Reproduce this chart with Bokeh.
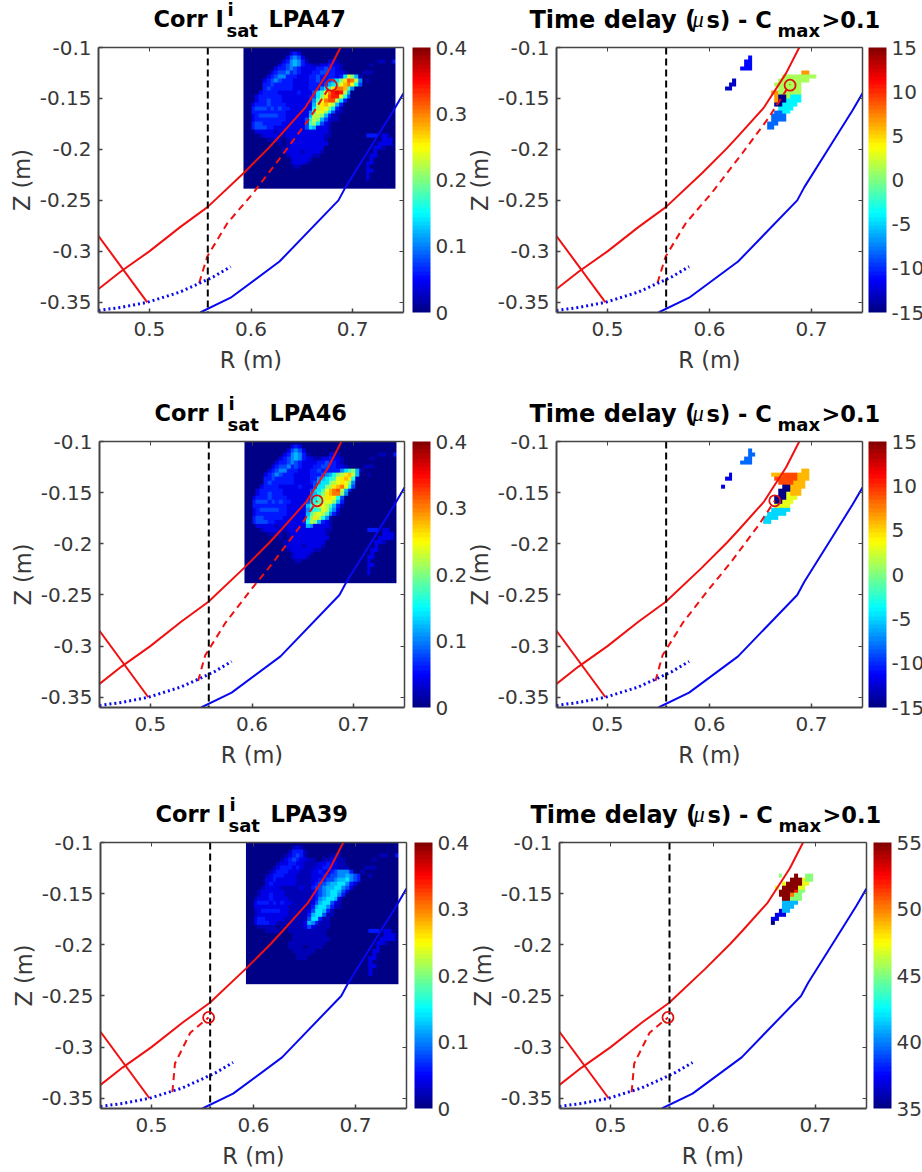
from bokeh.plotting import figure
from bokeh.layouts import column, row
from bokeh.models import (ColorBar, FixedTicker, Label, LinearAxis, LinearColorMapper)
from bokeh.embed import file_html
from bokeh.resources import INLINE
import numpy as np

# ---- curves (R, Z in metres) ----
SEP_R = [0.45, 0.4716, 0.50, 0.5306, 0.5572, 0.5926, 0.617, 0.629, 0.6535, 0.675, 0.688]
SEP_Z = [-0.337, -0.32, -0.30, -0.276, -0.2566, -0.2233, -0.199, -0.186, -0.1587, -0.1254, -0.10]
LEG_R = [0.45, 0.498]
LEG_Z = [-0.285, -0.35]
WALL_R = [0.55, 0.58, 0.628, 0.686, 0.693, 0.72, 0.74, 0.75]
WALL_Z = [-0.36, -0.3455, -0.31, -0.25, -0.237, -0.194, -0.162, -0.145]
DOT_R = [0.45, 0.472, 0.498, 0.53, 0.55, 0.563, 0.58]
DOT_Z = [-0.358, -0.355, -0.35, -0.34, -0.331, -0.325, -0.315]
VLINE_R = [0.5575, 0.5575]
VLINE_Z = [-0.10, -0.36]

DASH47_R = [0.549, 0.557, 0.577, 0.602, 0.632, 0.658, 0.679]
DASH47_Z = [-0.331, -0.305, -0.272, -0.243, -0.204, -0.169, -0.136]
DASH46_R = [0.547, 0.554, 0.574, 0.5985, 0.621, 0.648, 0.664]
DASH46_Z = [-0.334, -0.309, -0.277, -0.2455, -0.218, -0.182, -0.158]
DASH39_R = [0.5205, 0.523, 0.538, 0.556]
DASH39_Z = [-0.344, -0.316, -0.286, -0.271]
CIRCLE_R = [0.679, 0.664, 0.556]
CIRCLE_Z = [-0.137, -0.158, -0.271]

# ---- correlation maps, one character per cell, base-36 in units of 0.02 ----
BASE_ROWS = [
 "",
 "000000000000232",
 "00000000000245420",
 "0000000000235653100000221",
 "000000000234565322112232210",
 "00000000233454322223343321",
 "0000000234453432223344332210",
 "000000234553332223343333222100",
 "00000234543332222334322222211",
 "0000033433333222233322222221110",
 "00000343333332222333222222211",
 "0000233332222232223322222221",
 "0002333333222222233222222211",
 "000233433322222223322222211",
 "00233343333222222232222221",
 "00344434343322222222222221",
 "00333333333222222222222211",
 "00234444433222222222222110",
 "0023333333322222222222211",
 "00344333332222222222221",
 "00344433222222222222221",
 "00022222121222222222221",
 "000012222112222222222110",
 "00000011110122222222210",
 "00000000010122222222220",
 "00000000001122222222200",
 "00000000001222212222100",
 "000000000001222222110",
 "0000000000001222210",
 "000000000000122210",
 "0000000000000110",
]
BASE39_ROWS = [
 "",
 "000000000000121",
 "00000000000133310",
 "0000000000123431000000111",
 "000000000123432211001121110",
 "00000000122332211112232211",
 "0000000123332321112233221110",
 "000000123332221112232222111000",
 "00000123332221111223211111110",
 "0000022322222111122211111111000",
 "00000232222221111222111111110",
 "0000122221111121112211111110",
 "0001222222111111122111111110",
 "000122322211111112211111110",
 "00122232222111111121111110",
 "00233323232211111111111110",
 "00222222222111111111111110",
 "00123333322111111111111000",
 "0012222222211111111111100",
 "00233222221111111111110",
 "00233322111111111111110",
 "00011111010111111111110",
 "000001111001111111111000",
 "00000000000011111111100",
 "00000000000011111111110",
 "00000000000111111111100",
 "00000000000111101111000",
 "000000000000111111000",
 "0000000000000111100",
 "000000000000011100",
 "0000000000000000",
]
SPARSE = [(3, 35, "11"), (3, 39, "3"), (4, 33, "1"), (6, 31, "111"), (7, 30, "1"), (8, 32, "1"),
          (22, 32, "333"), (22, 36, "22"), (23, 36, "222"), (24, 35, "2222"), (25, 34, "221"),
          (26, 34, "2"), (27, 33, "22"), (28, 33, "2"), (29, 32, "22"), (30, 32, "2"),
          (31, 32, "22"), (32, 32, "2"), (33, 32, "2")]
STREAK47 = [(7, 25, "37ca6"), (8, 21, "3457adgfb5"), (9, 20, "34679cefc84"), (10, 19, "3579dffe95"),
            (11, 18, "479cfhihb6"), (12, 18, "47adghhc84"), (13, 18, "59cfggb73"), (14, 18, "6bdecb63"),
            (15, 18, "7bdca73"), (16, 17, "59cca74"), (17, 17, "6bba63"), (18, 16, "48ba64"),
            (19, 16, "49a74"), (20, 16, "4762")]
STREAK46 = [(7, 24, "3579a6"), (8, 19, "34568abdeb6"), (9, 18, "356789cded8"), (10, 18, "4677abcdca5"),
            (11, 18, "477abdefc84"), (12, 17, "4779cefgb63"), (13, 17, "568adeffa5"), (14, 17, "579bddc84"),
            (15, 16, "4689bcca63"), (16, 16, "689bcb963"), (17, 16, "5789cb752"), (18, 16, "69bcb953"),
            (19, 16, "7adb85"), (20, 15, "38ba63"), (21, 15, "2652")]
STREAK39 = [(7, 21, "2345553"), (8, 19, "23344556543"), (9, 18, "233445667543"), (10, 17, "234456677532"),
            (11, 17, "34456677542"), (12, 17, "2345677642"), (13, 17, "234567753"), (14, 17, "23567762"),
            (15, 17, "2467742"), (16, 17, "367753"), (17, 16, "247763"), (18, 16, "36774"),
            (19, 16, "4773"), (20, 15, "2653"), (21, 15, "242")]

# ---- delay maps: (row, col, cells), '.' = masked; base-36 offset from the bar's low end ----
DELAY47 = [(2, 12, "4"), (3, 11, "44"), (4, 11, "44"), (5, 10, "444"), (8, 8, "2"), (9, 7, "22"), (10, 6, "22"),
           (6, 26, "mm"), (7, 21, "ggggggggg"), (8, 20, "gggggggg"), (9, 19, "ggggggg"), (10, 20, "gggggg"),
           (11, 18, "mmgggggg"), (12, 19, "m00gbbb"), (13, 19, "m00bbbb"), (14, 19, "00bbbb"), (15, 20, "bbbb"),
           (16, 19, "77bb"), (17, 18, "7777"), (18, 18, "7777"), (19, 17, "777"), (20, 17, "77")]
DELAY46 = [(2, 12, "7"), (3, 12, "77"), (4, 11, "77"), (5, 10, "777"), (8, 7, "3"), (9, 6, "33"), (11, 5, "3"),
           (7, 26, "ll"), (8, 18, "llloooolll"), (9, 19, "oooooolll"), (10, 20, "oooolll"), (11, 21, "00llll"),
           (12, 20, "000lll"), (13, 20, "00illl"), (14, 19, "000iii"), (15, 19, "00iii"), (16, 19, "iiii"),
           (17, 18, "aaaaa"), (18, 17, "aaaaa"), (19, 16, "aaaa"), (20, 16, "aa")]
DELAY39 = [(8, 19, "a...k..aa"), (9, 22, "kkkcaa"), (10, 20, "ckkkkcc"), (11, 18, "c.kkkkcc"), (12, 19, "kkkkhaa"),
           (13, 19, "kkkfaa"), (14, 20, "kkaaa"), (15, 20, "6666"), (16, 20, "666"), (17, 19, "266"),
           (18, 18, "222"), (19, 17, "22"), (20, 17, "0")]

# ---- tick labels and titles ----
X_TICKS = [0.5, 0.6, 0.7]
Y_TICKS = [-0.35, -0.3, -0.25, -0.2, -0.15, -0.1]
CORR_TICKS = [0, 0.1, 0.2, 0.3, 0.4]
DELAY_TICKS = [-15, -10, -5, 0, 5, 10, 15]
DELAY39_TICKS = [35, 40, 45, 50, 55]

NCOL, NROW = 40, 36
INK = "#383838"
AXC = "#444444"


def jet(n=64):
    out = []
    for i in range(n):
        t = (i + 0.5) / n
        r = np.clip(min(4 * t - 1.5, -4 * t + 4.5), 0, 1)
        g = np.clip(min(4 * t - 0.5, -4 * t + 3.5), 0, 1)
        b = np.clip(min(4 * t + 0.5, -4 * t + 2.5), 0, 1)
        out.append("#%02x%02x%02x" % (int(r * 255), int(g * 255), int(b * 255)))
    return out


JET = jet()


def corr_grid(base, streak):
    g = np.zeros((NROW, NCOL))
    for r, s in enumerate(base):
        for c, ch in enumerate(s):
            g[r, c] = int(ch, 36) * 0.02
    for r, c0, s in SPARSE + streak:
        for i, ch in enumerate(s):
            g[r, c0 + i] = int(ch, 36) * 0.02
    return g[::-1]


def delay_grid(cells, low):
    g = np.full((NROW, NCOL), np.nan)
    for r, c0, s in cells:
        for i, ch in enumerate(s):
            if ch != ".":
                g[r, c0 + i] = low + int(ch, 36)
    return g[::-1]


def labels(ticks):
    return {t: ("%g" % t) for t in ticks}


def blank(ticks):
    return {t: "" for t in ticks}


def panel(grid, low, high, cb_ticks, dash, circle, w, h, top, bottom, left, fig_w, cb_x, margin):
    p = figure(x_range=(0.45, 0.75), y_range=(-0.36, -0.10), frame_width=w, frame_height=h,
               min_border_left=left, min_border_right=fig_w - left - w, min_border_top=top, min_border_bottom=bottom,
               toolbar_location=None, output_backend="svg", tools="", background_fill_color="white",
               border_fill_color=None, outline_line_color=None, margin=margin)
    p.grid.visible = False
    mapper = LinearColorMapper(palette=JET, low=low, high=high, nan_color="rgba(0,0,0,0)")
    p.image(image=[grid], x=0.5926, y=-0.2385, dw=0.1495, dh=0.1385, color_mapper=mapper)

    p.line(SEP_R, SEP_Z, line_color="#f01010", line_width=2)
    p.line(LEG_R, LEG_Z, line_color="#f01010", line_width=2)
    p.line(dash[0], dash[1], line_color="#f01010", line_width=2, line_dash="7 5")
    p.line(WALL_R, WALL_Z, line_color="#0808f0", line_width=2)
    p.line(DOT_R, DOT_Z, line_color="#0808f0", line_width=3, line_dash="2 3")
    p.line(VLINE_R, VLINE_Z, line_color="black", line_width=2, line_dash="7 4")
    p.scatter([circle[0]], [circle[1]], marker="circle", size=11, fill_color=None,
              line_color="#e01010", line_width=1.8)

    for ax, ticks in ((p.xaxis[0], X_TICKS), (p.yaxis[0], Y_TICKS)):
        ax.ticker = FixedTicker(ticks=ticks)
        ax.major_label_overrides = labels(ticks)
        ax.major_label_text_font = "DejaVu Sans"
        ax.major_label_text_font_size = "20px"
        ax.major_label_text_color = INK
        ax.axis_label_text_font = "DejaVu Sans"
        ax.axis_label_text_font_size = "22.5px"
        ax.axis_label_text_font_style = "normal"
        ax.axis_label_text_color = INK
        ax.axis_line_color = AXC
        ax.axis_line_width = 2
        ax.major_tick_line_color = AXC
        ax.major_tick_line_width = 1.5
        ax.major_tick_in = 4
        ax.major_tick_out = 0
        ax.minor_tick_line_color = None
    p.xaxis[0].axis_label = "R (m)"
    p.yaxis[0].axis_label = "Z (m)"
    p.xaxis[0].major_label_standoff = 9
    p.xaxis[0].axis_label_standoff = 8
    p.yaxis[0].major_label_standoff = 7
    p.yaxis[0].axis_label_standoff = 2

    top_ax = LinearAxis(ticker=FixedTicker(ticks=X_TICKS), major_label_overrides=blank(X_TICKS),
                        major_label_standoff=0, major_tick_in=4, major_tick_out=0,
                        minor_tick_line_color=None, axis_line_color=AXC, axis_line_width=1.5,
                        major_tick_line_color=AXC, major_label_text_font_size="1px")
    right_ax = LinearAxis(ticker=FixedTicker(ticks=Y_TICKS), major_label_overrides=blank(Y_TICKS),
                          major_label_standoff=0, major_tick_in=4, major_tick_out=0,
                          minor_tick_line_color=None, axis_line_color=AXC, axis_line_width=1.5,
                          major_tick_line_color=AXC, major_label_text_font_size="1px")
    p.add_layout(top_ax, "above")
    p.add_layout(right_ax, "right")

    cb = ColorBar(color_mapper=mapper, ticker=FixedTicker(ticks=cb_ticks), major_label_overrides=labels(cb_ticks),
                  width=18, height=h, padding=0, margin=0, location=(cb_x, 0), major_tick_line_color=None,
                  minor_tick_line_color=None, bar_line_color=None, border_line_color=None,
                  major_label_text_font="DejaVu Sans", major_label_text_font_size="20px",
                  major_label_text_color=INK, label_standoff=5)
    p.add_layout(cb, "right")
    return p


def corr_title(tag):
    return [("Corr I", 55, 25, "22.5px", "bold", "DejaVu Sans"),
            ("i", 129, 34, "18px", "bold", "DejaVu Sans"),
            ("sat", 128, 13, "18px", "bold", "DejaVu Sans"),
            (tag, 170, 25, "22.5px", "bold", "DejaVu Sans")]


DELAY_TITLE = [("Time delay (", -22, 24, "24px", "bold", "DejaVu Sans"),
               ("\u03bc", 141, 24, "22.5px", "italic", "Liberation Serif"),
               ("s) - C", 155, 24, "22.5px", "bold", "DejaVu Sans"),
               ("max", 226, 13, "18px", "bold", "DejaVu Sans"),
               (">0.1", 270, 24, "22.5px", "bold", "DejaVu Sans")]

STRIP_H = 43
TOP_BORDER = 18           # room for the top tick labels; the canvas overlaps the title strip
OVERLAP = TOP_BORDER - 4


def strip(items):
    s = figure(width=914, height=STRIP_H, x_range=(0, 914), y_range=(0, STRIP_H), x_axis_location=None,
               y_axis_location=None, toolbar_location=None, output_backend="svg", tools="",
               min_border=0, outline_line_color=None, border_fill_color=None, background_fill_color=None)
    s.grid.visible = False
    for x0, parts in items:
        for text, dx, dy, size, style, font in parts:
            s.add_layout(Label(x=x0 + dx, y=dy, x_units="screen", y_units="screen", text=text, text_font=font,
                               text_font_size=size, text_font_style=style, text_color="black",
                               text_baseline="alphabetic", text_align="left"))
    return s


LEFT_FIG_W = 465
RIGHT_FIG_X = 445
RIGHT_FIG_W = 475
FRAME_TOPS = [47, 441, 842]
NEXT_STRIP = [394, 795, 1168]

specs = [
    [(corr_grid(BASE_ROWS, STREAK47), 0, 0.4, CORR_TICKS, (DASH47_R, DASH47_Z), 0, corr_title("LPA47"), 98, 305, 265, 412),
     (delay_grid(DELAY47, -15), -15, 15, DELAY_TICKS, (DASH47_R, DASH47_Z), 0, DELAY_TITLE, 551, 306, 265, 863)],
    [(corr_grid(BASE_ROWS, STREAK46), 0, 0.4, CORR_TICKS, (DASH46_R, DASH46_Z), 1, corr_title("LPA46"), 99, 305, 266, 412),
     (delay_grid(DELAY46, -15), -15, 15, DELAY_TICKS, (DASH46_R, DASH46_Z), 1, DELAY_TITLE, 551, 306, 266, 863)],
    [(corr_grid(BASE39_ROWS, STREAK39), 0, 0.4, CORR_TICKS, (DASH39_R, DASH39_Z), 2, corr_title("LPA39"), 100, 306, 266, 414),
     (delay_grid(DELAY39, 35), 35, 55, DELAY39_TICKS, (DASH39_R, DASH39_Z), 2, DELAY_TITLE, 552, 307, 266, 866)],
]

blocks = []
for ri, rs in enumerate(specs):
    figs = []
    items = []
    for ci, s in enumerate(rs):
        grid, lo, hi, ticks, dash, ic, title, x0, w, h, cbpx = s
        items.append((x0, title))
        fx = 0 if ci == 0 else RIGHT_FIG_X
        fw = LEFT_FIG_W if ci == 0 else RIGHT_FIG_W
        margin = (-OVERLAP, 0, 0, 0) if ci == 0 else (-OVERLAP, 0, 0, RIGHT_FIG_X - LEFT_FIG_W)
        bottom = NEXT_STRIP[ri] - FRAME_TOPS[ri] - h
        figs.append(panel(grid, lo, hi, ticks, dash, (CIRCLE_R[ic], CIRCLE_Z[ic]), w, h, TOP_BORDER, bottom,
                          x0 - fx, fw, cbpx - (x0 + w), margin))
    blocks.append(strip(items))
    blocks.append(row(*figs, spacing=0))

page = column(*blocks, spacing=0)
open("out.html", "w").write(file_html(page, INLINE))
